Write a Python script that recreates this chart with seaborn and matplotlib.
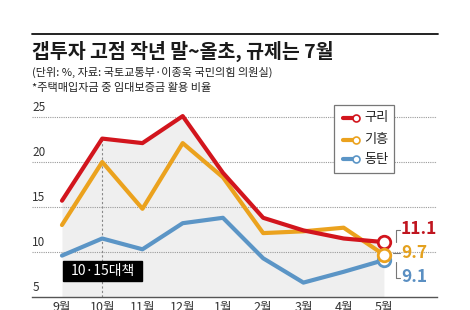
import pandas as pd
import matplotlib.pyplot as plt
import seaborn as sns
from matplotlib.patches import Rectangle
from matplotlib.lines import Line2D

# 데이터
months = ['9월', '10월', '11월', '12월', '1월', '2월', '3월', '4월', '5월']
guri = [15.7, 22.6, 22.1, 25.1, 18.8, 13.8, 12.4, 11.5, 11.1]
giheung = [13.0, 20.0, 14.8, 22.1, 18.3, 12.1, 12.3, 12.7, 9.7]
dongtan = [9.6, 11.5, 10.3, 13.2, 13.8, 9.3, 6.6, 7.8, 9.1]
regions = ['구리', '기흥', '동탄']
colors = {'구리': '#d2151d', '기흥': '#eba21e', '동탄': '#5b95c6'}
label_colors = {'구리': '#c0151f', '기흥': '#e4a11f', '동탄': '#5a8fc2'}

sns.set_style("white")
plt.rcParams['font.family'] = ['Noto Sans CJK KR', 'DejaVu Sans']

rows = []
for name, vals in zip(regions, [guri, giheung, dongtan]):
    for i, v in enumerate(vals):
        rows.append({'idx': i, 'val': v, 'region': name})
df = pd.DataFrame(rows)

W, H = 470, 310
fig = plt.figure(figsize=(4.7, 3.1), dpi=100)
ax = fig.add_axes([32 / W, 1 - 297 / H, (437 - 32) / W, (297 - 108) / H])

# 회색 면적 (구리 아래)
ax.fill_between(range(len(months)), guri, 5, color='#efefef', lw=0, zorder=0)

# 점선 그리드
for y in [10, 15, 20, 25]:
    ax.axhline(y, color='#9a9a9a', lw=0.8, ls=(0, (1, 1)), zorder=1)
    ax.text(-0.74, y + 0.3, str(y), fontsize=8.5, color='#333333', va='bottom', ha='left')
ax.text(-0.74, 5.3, '5', fontsize=8.5, color='#333333', va='bottom', ha='left')

# 10·15 대책 시점
ax.plot([1, 1], [5, guri[1]], color='#888888', lw=0.8, ls=(0, (2, 2)), zorder=1)

# 선 그래프 (동탄, 기흥, 구리 순서로)
sns.lineplot(data=df, x='idx', y='val', hue='region', hue_order=['동탄', '기흥', '구리'],
             palette=colors, linewidth=3, legend=False, ax=ax, zorder=3)

# 끝점 마커
for name, vals in [('구리', guri), ('동탄', dongtan), ('기흥', giheung)]:
    ax.plot(len(vals) - 1, vals[-1], marker='o', ms=9, mfc='white', mec=colors[name],
            mew=2, zorder=5, clip_on=False)

# 끝값 라벨
x_end = len(months) - 1
ax.plot([x_end + 0.3, x_end + 0.3, x_end + 0.4], [guri[-1], guri[-1] + 1.35, guri[-1] + 1.35],
        color='#777777', lw=0.8, clip_on=False)
ax.text(x_end + 0.42, guri[-1] + 1.45, f'{guri[-1]}', color=label_colors['구리'], fontsize=12.5,
        fontweight='bold', va='center', ha='left')
ax.plot([x_end + 0.22, x_end + 0.4], [giheung[-1] + 0.15, giheung[-1] + 0.15],
        color='#777777', lw=0.8, clip_on=False)
ax.text(x_end + 0.42, giheung[-1] + 0.2, f'{giheung[-1]}', color=label_colors['기흥'], fontsize=12.5,
        fontweight='bold', va='center', ha='left')
ax.plot([x_end + 0.3, x_end + 0.3, x_end + 0.4], [dongtan[-1] - 0.2, dongtan[-1] - 1.95, dongtan[-1] - 1.95],
        color='#777777', lw=0.8, clip_on=False)
ax.text(x_end + 0.42, dongtan[-1] - 1.9, f'{dongtan[-1]}', color=label_colors['동탄'], fontsize=12.5,
        fontweight='bold', va='center', ha='left')

# 대책 박스
ax.add_patch(Rectangle((0.02, 6.8), 1.98, 2.2, color='black', zorder=4))
ax.text(1.01, 7.9, '10·15대책', color='white', fontsize=10, ha='center', va='center', zorder=5)

# 축
ax.set_xlim(-0.745, 9.32)
ax.set_ylim(5, 26)
ax.set_xticks(range(len(months)))
ax.set_xticklabels(months, fontsize=9, color='#333333')
ax.set_yticks([])
ax.tick_params(axis='x', direction='in', length=8, width=0.8, color='#888888', pad=3)
ax.set_xlabel('')
ax.set_ylabel('')
for s in ['top', 'right', 'left']:
    ax.spines[s].set_visible(False)
ax.spines['bottom'].set_color('#555555')
ax.spines['bottom'].set_linewidth(1)
ax.patch.set_alpha(0)

# 범례 (수동)
fig.patches.append(Rectangle((334 / W, 1 - 173 / H), 60 / W, 68 / H, transform=fig.transFigure,
                             fc='white', ec='#777777', lw=0.9, zorder=6))
for name, py in zip(regions, [118, 140, 159]):
    yy = 1 - py / H
    fig.lines.append(Line2D([343 / W, 354 / W], [yy, yy], transform=fig.transFigure,
                            color=colors[name], lw=3, zorder=7))
    fig.lines.append(Line2D([356 / W], [yy], transform=fig.transFigure, marker='o', ms=5,
                            mfc='white', mec=colors[name], mew=1.2, zorder=8))
    fig.text(364 / W, yy, name, fontsize=9.5, color='#222222', va='center', ha='left', zorder=8)

# 제목
fig.lines.append(Line2D([32 / W, 438 / W], [1 - 34 / H, 1 - 34 / H], transform=fig.transFigure,
                        color='#111111', lw=1.3))
fig.text(32 / W, 1 - 51 / H, '갭투자 고점 작년 말~올초, 규제는 7월', fontsize=14,
         fontweight='bold', color='#1a1a1a', va='center', ha='left')
fig.text(32 / W, 1 - 72 / H, '(단위: %, 자료: 국토교통부·이종욱 국민의힘 의원실)', fontsize=8,
         color='#222222', va='center', ha='left')
fig.text(32 / W, 1 - 88 / H, '*주택매입자금 중 임대보증금 활용 비율', fontsize=8,
         color='#222222', va='center', ha='left')

fig.savefig('out.png', dpi=100)
